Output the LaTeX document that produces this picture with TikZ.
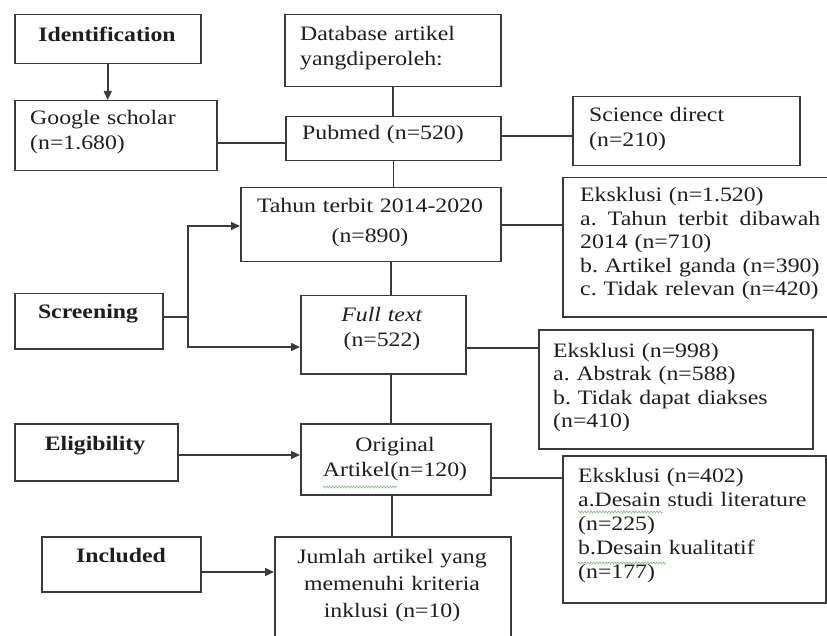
\documentclass[tikz,border=0pt]{standalone}
\usepackage{fontspec}
\setmainfont{Liberation Serif}[FakeStretch=1.16]
\usetikzlibrary{arrows.meta,decorations.pathmorphing}
\definecolor{ln}{HTML}{3A3A3A}
\definecolor{tx}{HTML}{1E1E1E}
\definecolor{wavy}{HTML}{8CC08C}
\newcommand\fsz{\fontsize{20.5}{23.5}\selectfont}
\frenchspacing
\begin{document}
\frenchspacing
\begin{tikzpicture}[x=1pt,y=-1pt,
 box/.style={draw=ln,line width=1.5pt,inner sep=0pt,anchor=north west},
 tl/.style={inner sep=0pt,anchor=base west,align=left,text=tx,font=\fsz,text width=255},
 tc/.style={inner sep=0pt,anchor=base,align=center,text=tx,font=\fsz,text width=250},
 tb/.style={tc,font=\fsz\bfseries},
 conn/.style={draw=ln,line width=1.5pt},
 arr/.style={conn,-{Triangle[length=9pt,width=8pt]}},
 spell/.style={draw=wavy,line width=0.7pt,decorate,decoration={snake,amplitude=1pt,segment length=3pt}}]
\path[use as bounding box,clip] (0,0) rectangle (827,636);
\fill[white] (0,0) rectangle (827,636);
% boxes
\node[box,minimum width=186,minimum height=49] (ident) at (14,14) {};
\node[box,minimum width=202,minimum height=70] (google) at (14,100) {};
\node[box,minimum width=216,minimum height=72] (db) at (284,14) {};
\node[box,minimum width=215,minimum height=44] (pubmed) at (285,116) {};
\node[box,minimum width=227,minimum height=69] (sd) at (572,96) {};
\node[box,minimum width=260,minimum height=74] (tahun) at (240,187) {};
\node[box,minimum width=300,minimum height=139] (ex1) at (562,177) {};
\node[box,minimum width=148,minimum height=55] (screen) at (14,293) {};
\node[box,minimum width=165,minimum height=78] (full) at (300,295) {};
\node[box,minimum width=274,minimum height=119] (ex2) at (538,329) {};
\node[box,minimum width=163,minimum height=57] (elig) at (14,423) {};
\node[box,minimum width=190,minimum height=71] (orig) at (300,423) {};
\node[box,minimum width=263,minimum height=147] (ex3) at (562,455) {};
\node[box,minimum width=159,minimum height=55] (incl) at (41,536) {};
\node[box,minimum width=236,minimum height=130] (jum) at (274,536) {};
% texts
\node[tb] (identT) at (107,42) {Identification};
\node[tl,font=\fontsize{20.5}{25}\selectfont] (googleT) at (30,125) {Google scholar\\(n=1.680)};
\node[tl,font=\fontsize{20.5}{25}\selectfont] (dbT) at (300,41) {Database artikel\\yangdiperoleh:};
\node[tl] (pubmedT) at (302,140) {Pubmed (n=520)};
\node[tl,font=\fontsize{20.5}{25}\selectfont] (sdT) at (589,122) {Science direct\\(n=210)};
\node[tc] (tahunT) at (370,213) {Tahun terbit 2014-2020\\[6pt](n=890)};
\node[tl] (ex1T) at (580,202) {Eksklusi (n=1.520)\\\makebox[240pt][l]{a.\hfill Tahun\hfill terbit\hfill dibawah}\\2014 (n=710)\\b. Artikel ganda (n=390)\\c. Tidak relevan (n=420)};
\node[tb] (screenT) at (88,318) {Screening};
\node[tc,font=\fontsize{20.5}{25}\selectfont] (fullT) at (382,321) {\textit{Full text}\\(n=522)};
\node[tl] (ex2T) at (553,357) {Eksklusi (n=998)\\a. Abstrak (n=588)\\b. Tidak dapat diakses\\(n=410)};
\node[tb] (eligT) at (95,450) {Eligibility};
\node[tc,font=\fontsize{20.5}{25}\selectfont] (origT) at (395,451) {Original\\Artikel(n=120)};
\node[tl,font=\fontsize{20.5}{24}\selectfont] (ex3T) at (578,482) {Eksklusi (n=402)\\a.Desain studi literature\\(n=225)\\b.Desain kualitatif\\(n=177)};
\node[tb] (inclT) at (121,562) {Included};
\node[tc,font=\fontsize{20.5}{27}\selectfont] (jumT) at (392,563) {Jumlah artikel yang\\memenuhi kriteria\\inklusi (n=10)};
% spell-check marks
\draw[spell] (323,487) -- (397,487);
\draw[spell] (578,512) -- (663,512);
\draw[spell] (578,563) -- (666,563);
% connectors
\coordinate (yGP) at (0,143);
\coordinate (yPS) at (0,136);
\coordinate (yTE) at (0,225);
\coordinate (xC) at (391,0);
\coordinate (xC2) at (392,0);
\coordinate (xS) at (188,0);
\coordinate (yS) at (0,317);
\coordinate (yT) at (0,226);
\coordinate (yF) at (0,347);
\coordinate (yFE) at (0,348);
\coordinate (yEO) at (0,455);
\coordinate (yOE) at (0,478);
\coordinate (yIJ) at (0,572);
\draw[arr] (ident.south) -- (ident.south |- google.north);
\draw[conn] (google.east |- yGP) -- (pubmed.west |- yGP);
\draw[conn] (db.south) -- (db.south |- pubmed.north);
\draw[conn] (pubmed.east |- yPS) -- (sd.west |- yPS);
\draw[conn] (pubmed.south) -- (pubmed.south |- tahun.north);
\draw[conn] (tahun.east |- yTE) -- (ex1.west |- yTE);
\draw[conn] (tahun.south -| xC) -- (full.north -| xC);
\draw[conn] (screen.east |- yS) -- (xS |- yS);
\draw[arr] (xS |- yS) -- (xS |- yT) -- (tahun.west |- yT);
\draw[arr] (xS |- yS) -- (xS |- yF) -- (full.west |- yF);
\draw[conn] (full.east |- yFE) -- (ex2.west |- yFE);
\draw[conn] (full.south -| xC) -- (orig.north -| xC);
\draw[arr] (elig.east |- yEO) -- (orig.west |- yEO);
\draw[conn] (orig.east |- yOE) -- (ex3.west |- yOE);
\draw[conn] (orig.south -| xC2) -- (jum.north -| xC2);
\draw[arr] (incl.east |- yIJ) -- (jum.west |- yIJ);
\end{tikzpicture}
\end{document}
